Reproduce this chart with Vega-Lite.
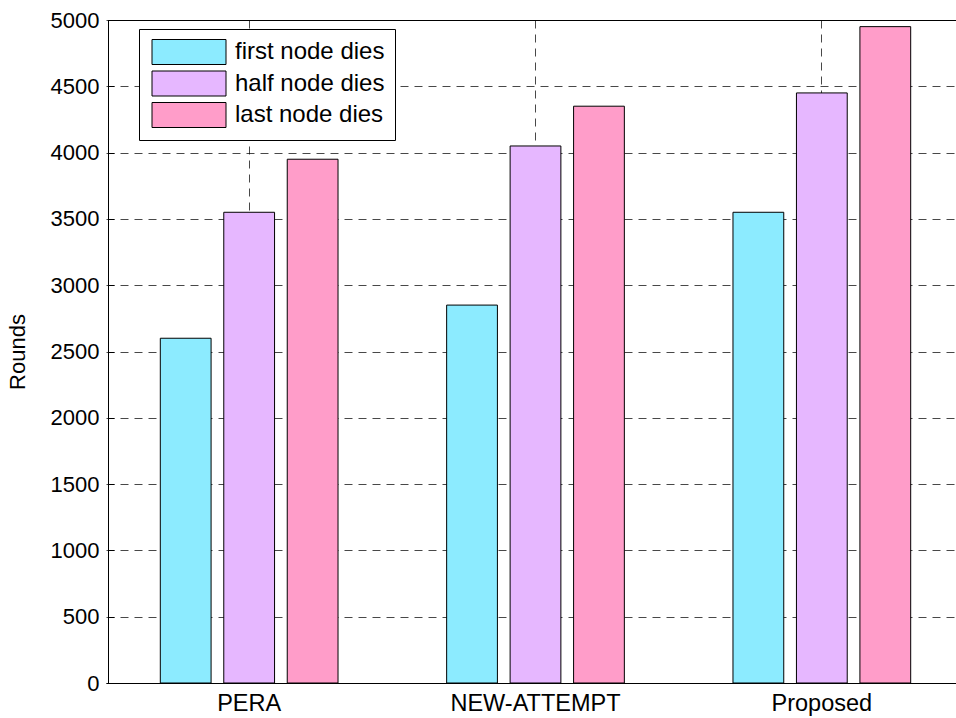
{
  "$schema": "https://vega.github.io/schema/vega-lite/v6.json",
  "autosize": "none",
  "width": 848,
  "height": 663,
  "padding": {"left": 108, "top": 20, "right": 0, "bottom": 35},
  "background": "white",
  "config": {
    "font": "Liberation Sans",
    "view": {"stroke": "black", "strokeWidth": 1},
    "axis": {
      "domainColor": "black",
      "tickColor": "black",
      "labelColor": "black",
      "titleColor": "black",
      "labelFontSize": 22,
      "titleFontSize": 22,
      "titleFontWeight": "normal",
      "gridColor": "black",
      "gridDash": [8, 6],
      "gridWidth": 0.8,
      "gridOpacity": 0.9
    }
  },
  "data": {
    "values": [
      {"method": "PERA", "event": "first node dies", "rounds": 2600},
      {"method": "PERA", "event": "half node dies", "rounds": 3550},
      {"method": "PERA", "event": "last node dies", "rounds": 3950},
      {"method": "NEW-ATTEMPT", "event": "first node dies", "rounds": 2850},
      {"method": "NEW-ATTEMPT", "event": "half node dies", "rounds": 4050},
      {"method": "NEW-ATTEMPT", "event": "last node dies", "rounds": 4350},
      {"method": "Proposed", "event": "first node dies", "rounds": 3550},
      {"method": "Proposed", "event": "half node dies", "rounds": 4450},
      {"method": "Proposed", "event": "last node dies", "rounds": 4950}
    ]
  },
  "mark": {"type": "bar", "stroke": "black", "strokeWidth": 1},
  "encoding": {
    "x": {
      "field": "method",
      "type": "nominal",
      "sort": ["PERA", "NEW-ATTEMPT", "Proposed"],
      "scale": {"range": [-2, 857], "paddingInner": 0.335, "paddingOuter": 0.1675},
      "axis": {
        "title": null,
        "labelAngle": 0,
        "labelFontSize": 23.5,
        "grid": true,
        "tickSize": -6,
        "labelPadding": 14,
        "bandPosition": 0.5
      }
    },
    "xOffset": {
      "field": "event",
      "type": "nominal",
      "sort": ["first node dies", "half node dies", "last node dies"],
      "scale": {"paddingInner": 0.2, "paddingOuter": 0.1}
    },
    "y": {
      "field": "rounds",
      "type": "quantitative",
      "scale": {"domain": [0, 5000], "nice": false},
      "axis": {
        "title": "Rounds",
        "format": "d",
        "values": [0, 500, 1000, 1500, 2000, 2500, 3000, 3500, 4000, 4500, 5000],
        "grid": true,
        "tickSize": -6,
        "labelPadding": 15,
        "titlePadding": 21
      }
    },
    "fill": {
      "field": "event",
      "type": "nominal",
      "sort": ["first node dies", "half node dies", "last node dies"],
      "scale": {"range": ["#8CEBFF", "#E6B7FF", "#FF9DC9"]},
      "legend": {
        "title": null,
        "orient": "none",
        "legendX": 31,
        "legendY": 9,
        "direction": "vertical",
        "fillColor": "white",
        "strokeColor": "black",
        "padding": 10,
        "symbolType": "M-2.96,-1H2.96V1H-2.96Z",
        "symbolSize": 625,
        "symbolOffset": 27,
        "symbolStrokeColor": "black",
        "symbolStrokeWidth": 1,
        "symbolOpacity": 1,
        "labelFontSize": 24,
        "labelColor": "black",
        "labelOffset": 33,
        "rowPadding": 1.5
      }
    }
  }
}
